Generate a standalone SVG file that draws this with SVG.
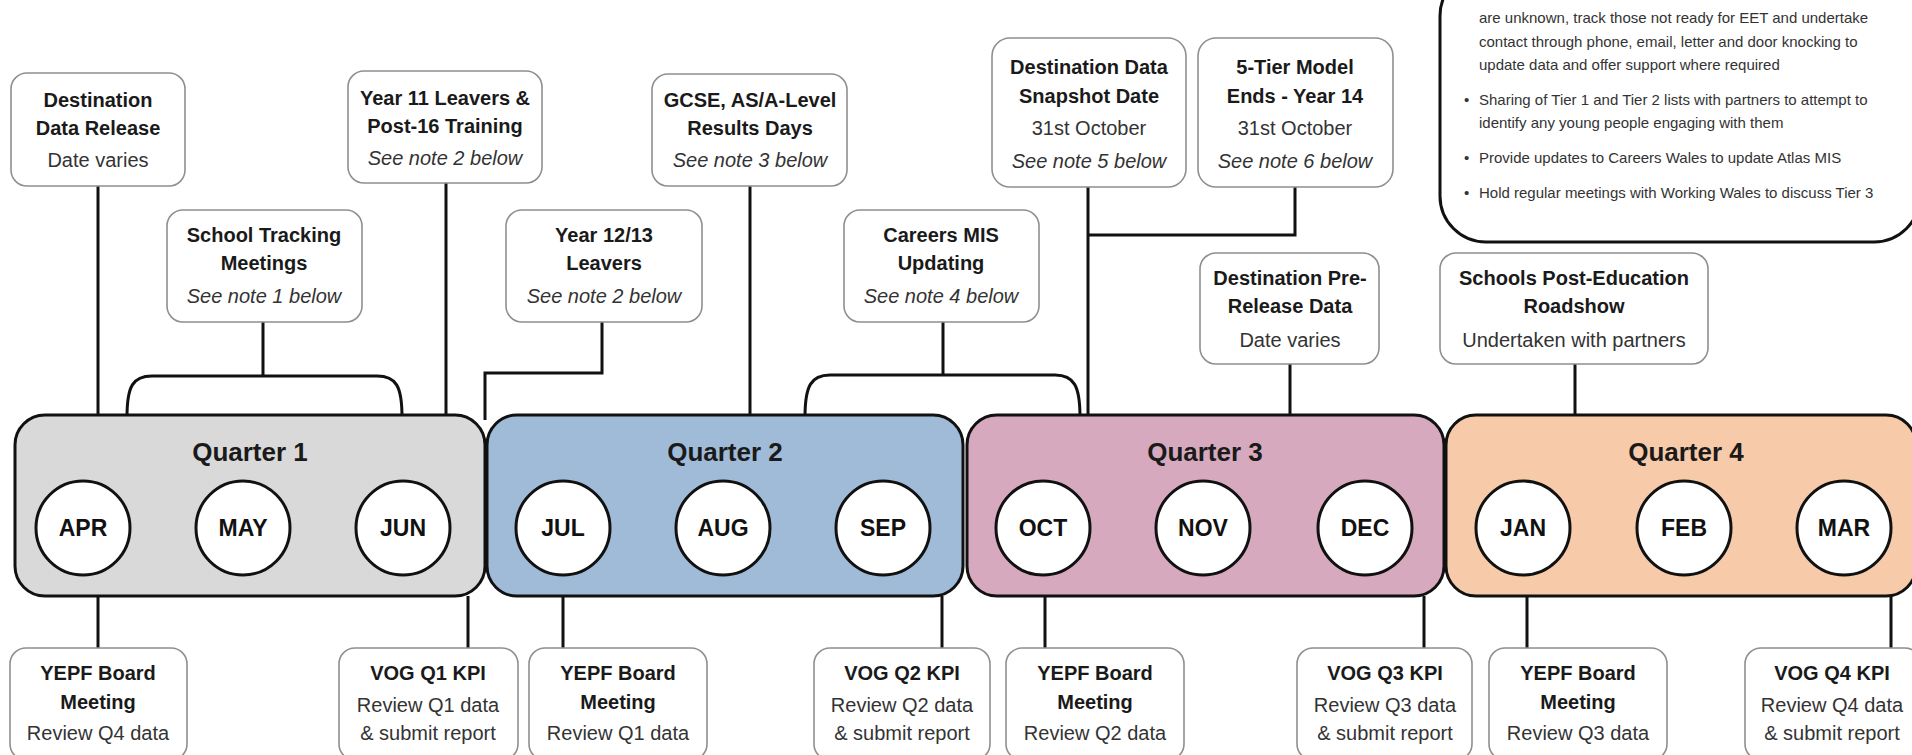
<svg xmlns="http://www.w3.org/2000/svg" width="1912" height="755" viewBox="0 0 1912 755">
<style>
.bg{fill:#ffffff}
.nb{fill:#ffffff;stroke:#8f8f8f;stroke-width:1.6}
.q{stroke:#111;stroke-width:3}
.c{fill:#ffffff;stroke:#111;stroke-width:3}
.ln{fill:none;stroke:#111;stroke-width:3}
text{font-family:"Liberation Sans",Arial,sans-serif;text-anchor:middle}
.t{font-size:20px;font-weight:bold;fill:#1a1a1a}
.s{font-size:20px;fill:#333}
.i{font-size:20px;font-style:italic;fill:#333}
.qt{font-size:26px;font-weight:bold;fill:#1a1a1a}
.m{font-size:23px;font-weight:bold;fill:#111}
.n{font-size:15px;fill:#333;text-anchor:start}
</style>
<rect class="bg" x="0" y="0" width="1912" height="755"/>

<g id="connectors">
<line class="ln" x1="98" y1="186" x2="98" y2="417"/>
<line class="ln" x1="263" y1="322" x2="263" y2="376"/>
<path class="ln" d="M127,417 C127,386 133,376 152,376 L377,376 C396,376 402,386 402,417"/>
<line class="ln" x1="446" y1="183" x2="446" y2="417"/>
<polyline class="ln" points="602,322 602,373 485,373 485,420"/>
<line class="ln" x1="750" y1="186" x2="750" y2="417"/>
<line class="ln" x1="943" y1="322" x2="943" y2="375"/>
<path class="ln" d="M805,417 C805,386 811,375 830,375 L1055,375 C1074,375 1080,386 1080,417"/>
<line class="ln" x1="1088" y1="187" x2="1088" y2="417"/>
<polyline class="ln" points="1295,187 1295,235 1088,235"/>
<line class="ln" x1="1290" y1="364" x2="1290" y2="417"/>
<line class="ln" x1="1575" y1="364" x2="1575" y2="417"/>
<line class="ln" x1="98" y1="596" x2="98" y2="648"/>
<line class="ln" x1="468" y1="596" x2="468" y2="648"/>
<line class="ln" x1="563" y1="596" x2="563" y2="648"/>
<line class="ln" x1="942" y1="596" x2="942" y2="648"/>
<line class="ln" x1="1045" y1="596" x2="1045" y2="648"/>
<line class="ln" x1="1424" y1="596" x2="1424" y2="648"/>
<line class="ln" x1="1527" y1="596" x2="1527" y2="648"/>
<line class="ln" x1="1891" y1="596" x2="1891" y2="648"/>
</g>

<g id="notes">
<rect x="1440" y="-30" width="480" height="272" rx="46" fill="#ffffff" stroke="#111" stroke-width="3"/>
<text class="n" x="1479" y="23">are unknown, track those not ready for EET and undertake</text>
<text class="n" x="1479" y="47">contact through phone, email, letter and door knocking to</text>
<text class="n" x="1479" y="70">update data and offer support where required</text>
<text class="n" x="1464" y="105">•</text>
<text class="n" x="1479" y="105">Sharing of Tier 1 and Tier 2 lists with partners to attempt to</text>
<text class="n" x="1479" y="128">identify any young people engaging with them</text>
<text class="n" x="1464" y="163">•</text>
<text class="n" x="1479" y="163">Provide updates to Careers Wales to update Atlas MIS</text>
<text class="n" x="1464" y="198">•</text>
<text class="n" x="1479" y="198">Hold regular meetings with Working Wales to discuss Tier 3</text>
</g>

<g id="q1">
<rect class="q" x="15" y="415" width="470" height="181" rx="30" fill="#d9d9d9"/>
<text class="qt" x="250" y="461">Quarter 1</text>
<circle class="c" cx="83" cy="528" r="47"/><text class="m" x="83" y="536">APR</text>
<circle class="c" cx="243" cy="528" r="47"/><text class="m" x="243" y="536">MAY</text>
<circle class="c" cx="403" cy="528" r="47"/><text class="m" x="403" y="536">JUN</text>
</g>
<g id="q2">
<rect class="q" x="487" y="415" width="476" height="181" rx="30" fill="#9fbbd8"/>
<text class="qt" x="725" y="461">Quarter 2</text>
<circle class="c" cx="563" cy="528" r="47"/><text class="m" x="563" y="536">JUL</text>
<circle class="c" cx="723" cy="528" r="47"/><text class="m" x="723" y="536">AUG</text>
<circle class="c" cx="883" cy="528" r="47"/><text class="m" x="883" y="536">SEP</text>
</g>
<g id="q3">
<rect class="q" x="967" y="415" width="477" height="181" rx="30" fill="#d6a9bf"/>
<text class="qt" x="1205" y="461">Quarter 3</text>
<circle class="c" cx="1043" cy="528" r="47"/><text class="m" x="1043" y="536">OCT</text>
<circle class="c" cx="1203" cy="528" r="47"/><text class="m" x="1203" y="536">NOV</text>
<circle class="c" cx="1365" cy="528" r="47"/><text class="m" x="1365" y="536">DEC</text>
</g>
<g id="q4">
<rect class="q" x="1446" y="415" width="470" height="181" rx="30" fill="#f7caa9"/>
<text class="qt" x="1686" y="461">Quarter 4</text>
<circle class="c" cx="1523" cy="528" r="47"/><text class="m" x="1523" y="536">JAN</text>
<circle class="c" cx="1684" cy="528" r="47"/><text class="m" x="1684" y="536">FEB</text>
<circle class="c" cx="1844" cy="528" r="47"/><text class="m" x="1844" y="536">MAR</text>
</g>

<g id="dest-data-release">
<rect class="nb" x="11" y="73" width="174" height="113" rx="16"/>
<text class="t" x="98" y="107">Destination</text>
<text class="t" x="98" y="135">Data Release</text>
<text class="s" x="98" y="167">Date varies</text>
</g>
<g id="school-tracking">
<rect class="nb" x="167" y="210" width="195" height="112" rx="16"/>
<text class="t" x="264" y="242">School Tracking</text>
<text class="t" x="264" y="270">Meetings</text>
<text class="i" x="264" y="303">See note 1 below</text>
</g>
<g id="year11">
<rect class="nb" x="348" y="71" width="194" height="112" rx="16"/>
<text class="t" x="445" y="105">Year 11 Leavers &amp;</text>
<text class="t" x="445" y="133">Post-16 Training</text>
<text class="i" x="445" y="165">See note 2 below</text>
</g>
<g id="year1213">
<rect class="nb" x="506" y="210" width="196" height="112" rx="16"/>
<text class="t" x="604" y="242">Year 12/13</text>
<text class="t" x="604" y="270">Leavers</text>
<text class="i" x="604" y="303">See note 2 below</text>
</g>
<g id="gcse">
<rect class="nb" x="652" y="74" width="195" height="112" rx="16"/>
<text class="t" x="750" y="107">GCSE, AS/A-Level</text>
<text class="t" x="750" y="135">Results Days</text>
<text class="i" x="750" y="167">See note 3 below</text>
</g>
<g id="careers-mis">
<rect class="nb" x="844" y="210" width="195" height="112" rx="16"/>
<text class="t" x="941" y="242">Careers MIS</text>
<text class="t" x="941" y="270">Updating</text>
<text class="i" x="941" y="303">See note 4 below</text>
</g>
<g id="snapshot">
<rect class="nb" x="992" y="38" width="194" height="149" rx="18"/>
<text class="t" x="1089" y="74">Destination Data</text>
<text class="t" x="1089" y="103">Snapshot Date</text>
<text class="s" x="1089" y="135">31st October</text>
<text class="i" x="1089" y="168">See note 5 below</text>
</g>
<g id="five-tier">
<rect class="nb" x="1198" y="38" width="195" height="149" rx="18"/>
<text class="t" x="1295" y="74">5-Tier Model</text>
<text class="t" x="1295" y="103">Ends - Year 14</text>
<text class="s" x="1295" y="135">31st October</text>
<text class="i" x="1295" y="168">See note 6 below</text>
</g>
<g id="pre-release">
<rect class="nb" x="1200" y="253" width="179" height="111" rx="16"/>
<text class="t" x="1290" y="285">Destination Pre-</text>
<text class="t" x="1290" y="313">Release Data</text>
<text class="s" x="1290" y="347">Date varies</text>
</g>
<g id="roadshow">
<rect class="nb" x="1440" y="253" width="268" height="111" rx="16"/>
<text class="t" x="1574" y="285">Schools Post-Education</text>
<text class="t" x="1574" y="313">Roadshow</text>
<text class="s" x="1574" y="347">Undertaken with partners</text>
</g>

<g id="yepf-q4">
<rect class="nb" x="10" y="648" width="177" height="112" rx="16"/>
<text class="t" x="98" y="680">YEPF Board</text>
<text class="t" x="98" y="709">Meeting</text>
<text class="s" x="98" y="740">Review Q4 data</text>
</g>
<g id="vog-q1">
<rect class="nb" x="339" y="648" width="179" height="112" rx="16"/>
<text class="t" x="428" y="680">VOG Q1 KPI</text>
<text class="s" x="428" y="712">Review Q1 data</text>
<text class="s" x="428" y="740">&amp; submit report</text>
</g>
<g id="yepf-q1">
<rect class="nb" x="529" y="648" width="178" height="112" rx="16"/>
<text class="t" x="618" y="680">YEPF Board</text>
<text class="t" x="618" y="709">Meeting</text>
<text class="s" x="618" y="740">Review Q1 data</text>
</g>
<g id="vog-q2">
<rect class="nb" x="814" y="648" width="176" height="112" rx="16"/>
<text class="t" x="902" y="680">VOG Q2 KPI</text>
<text class="s" x="902" y="712">Review Q2 data</text>
<text class="s" x="902" y="740">&amp; submit report</text>
</g>
<g id="yepf-q2">
<rect class="nb" x="1006" y="648" width="178" height="112" rx="16"/>
<text class="t" x="1095" y="680">YEPF Board</text>
<text class="t" x="1095" y="709">Meeting</text>
<text class="s" x="1095" y="740">Review Q2 data</text>
</g>
<g id="vog-q3">
<rect class="nb" x="1297" y="648" width="175" height="112" rx="16"/>
<text class="t" x="1385" y="680">VOG Q3 KPI</text>
<text class="s" x="1385" y="712">Review Q3 data</text>
<text class="s" x="1385" y="740">&amp; submit report</text>
</g>
<g id="yepf-q3">
<rect class="nb" x="1489" y="648" width="178" height="112" rx="16"/>
<text class="t" x="1578" y="680">YEPF Board</text>
<text class="t" x="1578" y="709">Meeting</text>
<text class="s" x="1578" y="740">Review Q3 data</text>
</g>
<g id="vog-q4">
<rect class="nb" x="1745" y="648" width="176" height="112" rx="16"/>
<text class="t" x="1832" y="680">VOG Q4 KPI</text>
<text class="s" x="1832" y="712">Review Q4 data</text>
<text class="s" x="1832" y="740">&amp; submit report</text>
</g>
</svg>
